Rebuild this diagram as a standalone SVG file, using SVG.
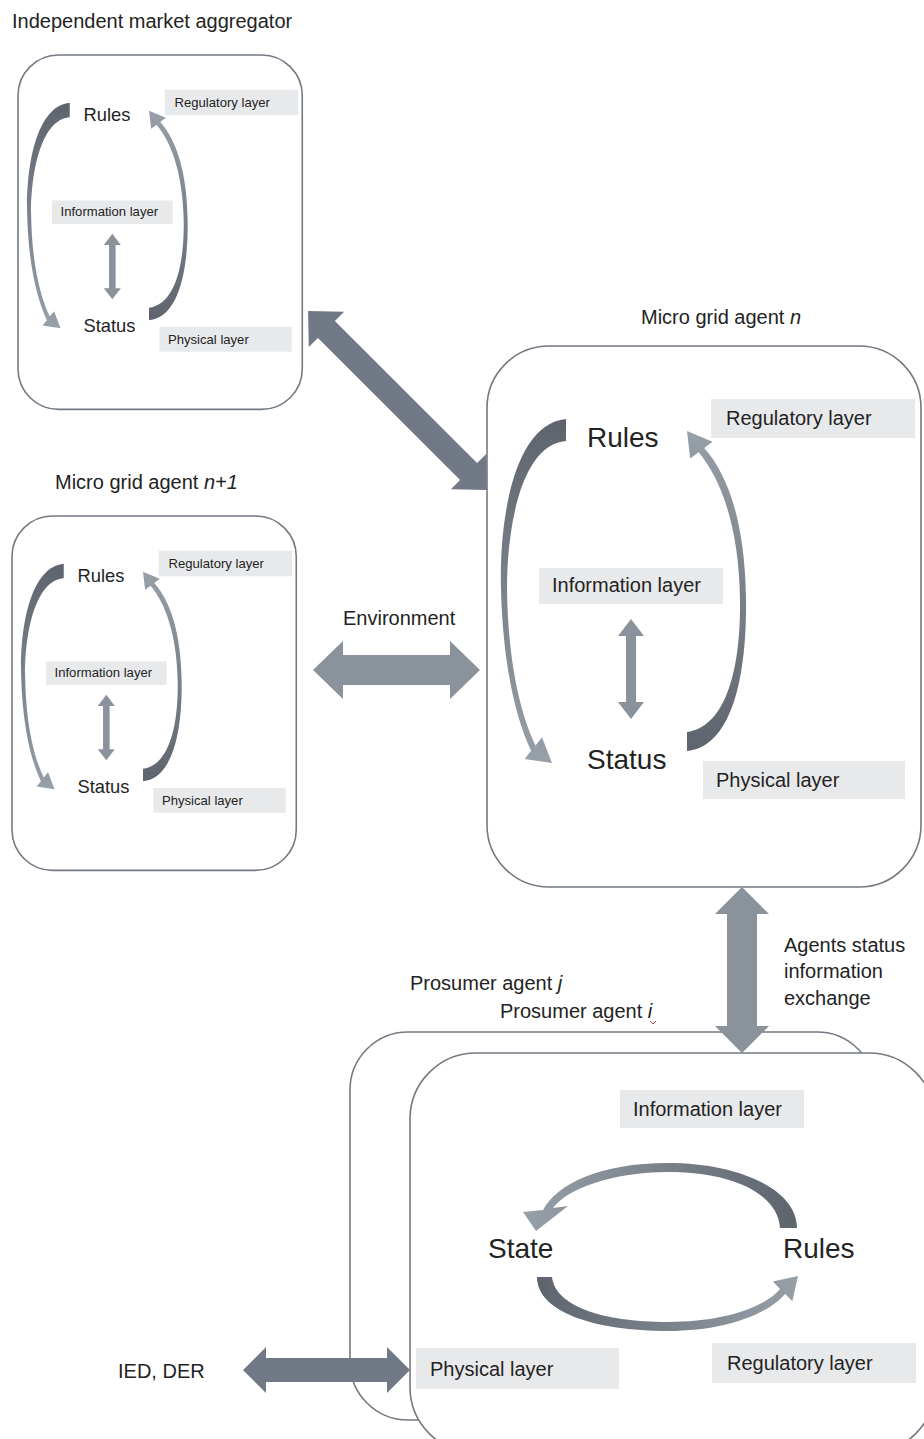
<svg xmlns="http://www.w3.org/2000/svg" width="924" height="1439" viewBox="0 0 924 1439">
  <style>
    text { font-family: "Liberation Sans", Arial, sans-serif; fill: #232323; }
    .title { font-size: 20px; }
    .lbl { font-size: 20px; }
    .big { font-size: 28px; }
    .box { fill: #ffffff; stroke: #737a82; stroke-width: 1.6; }
    .layer { fill: #e8e9eb; }
    .thin { vector-effect: non-scaling-stroke; }
    .arrDark { fill: #727986; }
    .arrLight { fill: #8a939c; }
  </style>
  <defs>
    <!-- curved arrow shading: dark at the tail, lighter toward the head -->
    <linearGradient id="gDown" x1="0" y1="0" x2="0" y2="1">
      <stop offset="0" stop-color="#5e646e"/>
      <stop offset="1" stop-color="#97a0a8"/>
    </linearGradient>
    <linearGradient id="gUp" x1="0" y1="1" x2="0" y2="0">
      <stop offset="0" stop-color="#5e646e"/>
      <stop offset="1" stop-color="#97a0a8"/>
    </linearGradient>
    <linearGradient id="gLeft" x1="1" y1="0" x2="0" y2="0">
      <stop offset="0" stop-color="#5e646e"/>
      <stop offset="1" stop-color="#97a0a8"/>
    </linearGradient>
    <linearGradient id="gRight" x1="0" y1="0" x2="1" y2="0">
      <stop offset="0" stop-color="#5e646e"/>
      <stop offset="1" stop-color="#97a0a8"/>
    </linearGradient>
  </defs>

  <!-- Titles -->
  <text class="title" x="12" y="28" font-size="20.6">Independent market aggregator</text>
  <text class="title" x="641" y="324">Micro grid agent <tspan font-style="italic">n</tspan></text>
  <text class="title" x="55" y="489">Micro grid agent <tspan font-style="italic">n+1</tspan></text>

  <!-- Independent market aggregator (scaled copy of the agent layout) -->
  <g id="aggregator" transform="translate(18,55) scale(0.655)">
    <rect class="box thin" x="0" y="0" width="434" height="541" rx="62"/>
    <rect class="layer" x="224" y="53" width="204" height="39"/>
    <text class="lbl" x="239" y="79">Regulatory layer</text>
    <rect class="layer" x="52" y="222" width="184" height="36"/>
    <text class="lbl" x="65" y="246">Information layer</text>
    <rect class="layer" x="216" y="415" width="202" height="38"/>
    <text class="lbl" x="229" y="441">Physical layer</text>
    <text class="big" x="100" y="101">Rules</text>
    <text class="big" x="100" y="423" font-size="29">Status</text>
    <polygon class="arrLight" points="144,273 157,290 149,290 149,356 157,356 144,373 131,356 139,356 139,290 131,290"/>
    <path fill="url(#gDown)" d="M79,73 C27,78 12,173 14,243 C16,323 30,375 44.1,404.8 L37.6,413 L65,417 L55,391.2 L48.5,399.4 C34,369 21,318 20,243 C20,173 37,98 79,95 Z"/>
    <path fill="url(#gUp)" d="M200,405 C244,401 260,333 259,253 C258,178 242,130 217.2,102.1 L225.6,95.8 L200,85 L203.2,112.6 L211.6,106.3 C234,133 252,181 253,253 C254,328 237,381 200,386 Z"/>
  </g>

  <!-- Micro grid agent n+1 -->
  <g id="agent-n1" transform="translate(12,516) scale(0.655)">
    <rect class="box thin" x="0" y="0" width="434" height="541" rx="62"/>
    <rect class="layer" x="224" y="53" width="204" height="39"/>
    <text class="lbl" x="239" y="79">Regulatory layer</text>
    <rect class="layer" x="52" y="222" width="184" height="36"/>
    <text class="lbl" x="65" y="246">Information layer</text>
    <rect class="layer" x="216" y="415" width="202" height="38"/>
    <text class="lbl" x="229" y="441">Physical layer</text>
    <text class="big" x="100" y="101">Rules</text>
    <text class="big" x="100" y="423" font-size="29">Status</text>
    <polygon class="arrLight" points="144,273 157,290 149,290 149,356 157,356 144,373 131,356 139,356 139,290 131,290"/>
    <path fill="url(#gDown)" d="M79,73 C27,78 12,173 14,243 C16,323 30,375 44.1,404.8 L37.6,413 L65,417 L55,391.2 L48.5,399.4 C34,369 21,318 20,243 C20,173 37,98 79,95 Z"/>
    <path fill="url(#gUp)" d="M200,405 C244,401 260,333 259,253 C258,178 242,130 217.2,102.1 L225.6,95.8 L200,85 L203.2,112.6 L211.6,106.3 C234,133 252,181 253,253 C254,328 237,381 200,386 Z"/>
  </g>

  <!-- Micro grid agent n -->
  <g id="agent-n" transform="translate(487,346)">
    <rect class="box" x="0" y="0" width="434" height="541" rx="62"/>
    <rect class="layer" x="224" y="53" width="204" height="39"/>
    <text class="lbl" x="239" y="79">Regulatory layer</text>
    <rect class="layer" x="52" y="222" width="184" height="36"/>
    <text class="lbl" x="65" y="246">Information layer</text>
    <rect class="layer" x="216" y="415" width="202" height="38"/>
    <text class="lbl" x="229" y="441">Physical layer</text>
    <text class="big" x="100" y="101">Rules</text>
    <text class="big" x="100" y="423" font-size="29">Status</text>
    <polygon class="arrLight" points="144,273 157,290 149,290 149,356 157,356 144,373 131,356 139,356 139,290 131,290"/>
    <path fill="url(#gDown)" d="M79,73 C27,78 12,173 14,243 C16,323 30,375 44.1,404.8 L37.6,413 L65,417 L55,391.2 L48.5,399.4 C34,369 21,318 20,243 C20,173 37,98 79,95 Z"/>
    <path fill="url(#gUp)" d="M200,405 C244,401 260,333 259,253 C258,178 242,130 217.2,102.1 L225.6,95.8 L200,85 L203.2,112.6 L211.6,106.3 C234,133 252,181 253,253 C254,328 237,381 200,386 Z"/>
  </g>

  <!-- Prosumer agent j (behind) -->
  <g id="prosumer-j">
    <rect class="box" x="350" y="1032" width="525" height="388" rx="58"/>
    <text class="title" x="410" y="990">Prosumer agent <tspan font-style="italic">j</tspan></text>
  </g>

  <!-- Prosumer agent i (front) -->
  <g id="prosumer-i">
    <rect class="box" x="410" y="1053" width="525" height="400" rx="66"/>
    <text class="title" x="500" y="1018">Prosumer agent <tspan font-style="italic">i</tspan></text>
    <path d="M650,1021 l3,3 l3,-3" fill="none" stroke="#d05050" stroke-width="1"/>
    <rect class="layer" x="620" y="1090" width="184" height="38"/>
    <text class="lbl" x="633" y="1116">Information layer</text>
    <rect class="layer" x="416" y="1348" width="203" height="41"/>
    <text class="lbl" x="430" y="1376">Physical layer</text>
    <rect class="layer" x="712" y="1343" width="204" height="40"/>
    <text class="lbl" x="727" y="1370">Regulatory layer</text>
    <text class="big" x="488" y="1258" font-size="29">State</text>
    <text class="big" x="783" y="1258">Rules</text>
    <path fill="url(#gLeft)" d="M797,1228 C797,1190 740,1163 668,1163 C600,1163 557,1184 543,1210 L523,1212 L536,1231 L568,1206 L553,1208 C567,1189 612,1172 668,1172 C735,1172 778,1195 780,1228 Z"/>
    <path fill="url(#gRight)" d="M537,1277 C537,1312 595,1331 668,1331 C725,1331 768,1314 785.1,1293.9 L792.4,1301.2 L798,1276 L772.8,1281.6 L780.1,1288.9 C763,1309 720,1322 668,1322 C600,1322 555,1305 552,1277 Z"/>
  </g>

  <!-- External devices -->
  <g id="ied-der">
    <text class="title" x="118" y="1378">IED, DER</text>
  </g>

  <!-- Connectors -->
  <g id="connectors">
    <polygon class="arrDark" transform="translate(397.5,400.5) rotate(45)" points="-126.5,0 -100.5,-25 -100.5,-12 100.5,-12 100.5,-25 126.5,0 100.5,25 100.5,12 -100.5,12 -100.5,25"/>
    <polygon class="arrLight" points="313,670 343,641 343,655 450,655 450,641 480,670 450,699 450,685 343,685 343,699"/>
    <text class="title" x="343" y="625">Environment</text>
    <polygon class="arrLight" points="742,887 769,914 757,914 757,1026 769,1026 742,1053 715,1026 727,1026 727,914 715,914"/>
    <text class="title" x="784" y="952">Agents status</text>
    <text class="title" x="784" y="978">information</text>
    <text class="title" x="784" y="1005">exchange</text>
    <polygon class="arrDark" points="243,1370 266,1347 266,1358 387,1358 387,1347 410,1370 387,1393 387,1382 266,1382 266,1393"/>
  </g>
</svg>
